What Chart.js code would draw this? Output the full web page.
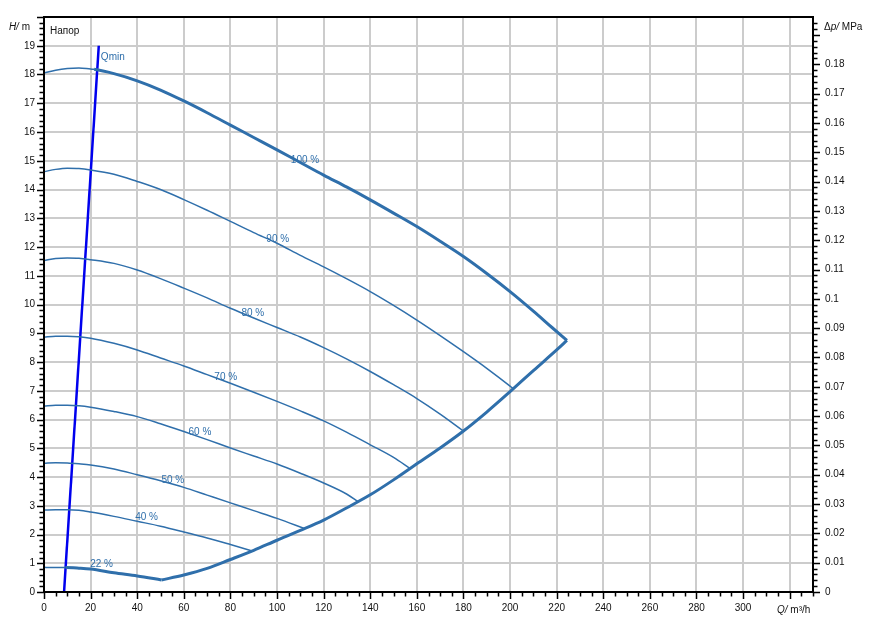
<!DOCTYPE html>
<html lang="ru">
<head>
<meta charset="UTF-8">
<title>Напор</title>
<script src="https://cdn.jsdelivr.net/npm/chart.js@4.4.0/dist/chart.umd.min.js"></script>
<style>
  html, body { margin: 0; padding: 0; background: #fff; }
  #wrap { width: 876px; height: 639px; }
</style>
</head>
<body>
<div id="wrap"><canvas id="pumpChart" width="876" height="639"></canvas></div>
<script>
// Q in m3/h, H in m
const q100 = [0, 5, 10, 15, 20, 21.5, 30, 40, 50, 60, 70, 80, 90, 100, 110, 120, 130, 140, 150, 160, 170, 180, 190, 200, 210, 218, 224.4];
const h100 = [18.05, 18.15, 18.21, 18.23, 18.19, 18.18, 18.03, 17.78, 17.46, 17.08, 16.67, 16.24, 15.81, 15.38, 14.94, 14.5, 14.08, 13.64, 13.18, 12.71, 12.2, 11.67, 11.08, 10.45, 9.77, 9.2, 8.75];

const q90 = [0, 5, 10, 15, 20, 30, 40, 50, 60, 70, 80, 90, 100, 110, 120, 130, 140, 150, 160, 170, 180, 190, 200, 201.2];
const h90 = [14.62, 14.7, 14.74, 14.73, 14.68, 14.53, 14.28, 14.0, 13.65, 13.28, 12.89, 12.5, 12.13, 11.71, 11.31, 10.89, 10.45, 9.97, 9.46, 8.92, 8.36, 7.78, 7.16, 7.08];

const q80 = [0, 5, 10, 15, 20, 30, 40, 50, 60, 70, 80, 90, 100, 110, 120, 130, 140, 150, 160, 170, 180];
const h80 = [11.53, 11.6, 11.62, 11.61, 11.56, 11.43, 11.2, 10.9, 10.57, 10.23, 9.87, 9.53, 9.2, 8.87, 8.5, 8.1, 7.67, 7.21, 6.73, 6.19, 5.6];

const q70 = [0, 5, 10, 15, 20, 30, 40, 50, 60, 70, 80, 90, 100, 110, 120, 130, 140, 150, 157];
const h70 = [8.86, 8.9, 8.9, 8.88, 8.83, 8.65, 8.42, 8.14, 7.86, 7.56, 7.26, 6.95, 6.63, 6.3, 5.95, 5.55, 5.12, 4.68, 4.3];

const q60 = [0, 5, 10, 15, 20, 30, 40, 50, 60, 70, 80, 90, 100, 110, 120, 130, 134.8];
const h60 = [6.47, 6.5, 6.5, 6.48, 6.43, 6.28, 6.1, 5.85, 5.58, 5.3, 5.01, 4.73, 4.45, 4.13, 3.79, 3.4, 3.14];

const q50 = [0, 5, 10, 15, 20, 30, 40, 50, 60, 70, 80, 90, 100, 112];
const h50 = [4.48, 4.5, 4.49, 4.46, 4.42, 4.28, 4.08, 3.87, 3.64, 3.37, 3.1, 2.83, 2.56, 2.2];

const q40 = [0, 5, 10, 15, 20, 30, 40, 50, 60, 70, 80, 89.7];
const h40 = [2.85, 2.86, 2.86, 2.84, 2.78, 2.63, 2.46, 2.29, 2.09, 1.88, 1.65, 1.42];

const q22 = [0, 1, 5, 9.2, 15, 20, 30, 40, 50.4];
const h22 = [0.88, 0.85, 0.85, 0.85, 0.83, 0.8, 0.67, 0.56, 0.42];

// max-flow limit, from the 22 % end to the 100 % end
const qLimit = [50.4, 60, 70, 80, 90, 100, 110, 120, 130, 140, 150, 160, 170, 180, 190, 200, 210, 220, 224.4];
const hLimit = [0.42, 0.59, 0.82, 1.13, 1.45, 1.8, 2.14, 2.5, 2.93, 3.38, 3.9, 4.46, 5.01, 5.6, 6.26, 6.97, 7.7, 8.42, 8.75];

const qMinQ = [8.6, 23.5];
const qMinH = [0, 19];

const xTickLabels = [0, 20, 40, 60, 80, 100, 120, 140, 160, 180, 200, 220, 240, 260, 280, 300];
const hTickLabels = [0, 1, 2, 3, 4, 5, 6, 7, 8, 9, 10, 11, 12, 13, 14, 15, 16, 17, 18, 19];
const pTickLabels = [0, 0.01, 0.02, 0.03, 0.04, 0.05, 0.06, 0.07, 0.08, 0.09, 0.1, 0.11, 0.12, 0.13, 0.14, 0.15, 0.16, 0.17, 0.18];

const curveColor = '#2f6fab';
const gridColor = '#cccccc';
const FONT = "'Liberation Sans', Arial, sans-serif";
const M_TO_MPA = 0.00980665;

// curve name positions (Q, H), text centred there
const curveLabels = [
  { text: '100 %', q: 112, h: 15.03 },
  { text: '90 %', q: 100.3, h: 12.28 },
  { text: '80 %', q: 89.6, h: 9.7 },
  { text: '70 %', q: 78, h: 7.48 },
  { text: '60 %', q: 66.9, h: 5.54 },
  { text: '50 %', q: 55.3, h: 3.9 },
  { text: '40 %', q: 44, h: 2.61 },
  { text: '22 %', q: 24.7, h: 0.97 }
];

function pts(qs, hs) {
  return qs.map((q, i) => ({ x: q, y: hs[i] }));
}

function isIn(list, v) {
  return list.some(t => Math.abs(t - v) < 1e-7);
}

function speedCurve(label, qs, hs, thickFrom) {
  const ds = {
    label: label,
    data: pts(qs, hs),
    borderColor: curveColor,
    borderWidth: 1.5,
    pointRadius: 0,
    cubicInterpolationMode: 'monotone',
    fill: false
  };
  if (thickFrom !== undefined) {
    ds.segment = { borderWidth: c => (c.p0.parsed.x >= thickFrom - 1e-9 ? 3 : 1.5) };
  }
  return ds;
}

function mixedText(c, parts, x, y, align) {
  let total = 0;
  parts.forEach(p => { c.font = p[1]; total += c.measureText(p[0]).width; });
  let cx = align === 'right' ? x - total : align === 'center' ? x - total / 2 : x;
  c.textAlign = 'left';
  parts.forEach(p => {
    c.font = p[1];
    c.fillText(p[0], cx, y);
    cx += c.measureText(p[0]).width;
  });
}

const frameAndTicks = {
  id: 'frameAndTicks',
  afterDraw(chart) {
    const c = chart.ctx;
    const a = chart.chartArea;
    const sx = chart.scales.x, sy = chart.scales.y, sp = chart.scales.p;
    c.save();
    c.strokeStyle = '#000';
    c.lineWidth = 1.5;
    c.beginPath();
    sx.ticks.forEach(t => {
      const px = Math.round(sx.getPixelForValue(t.value)) + 0.5;
      const len = Math.abs(t.value % 20) < 1e-7 ? 7 : 4.5;
      c.moveTo(px, a.bottom); c.lineTo(px, a.bottom + len);
    });
    sy.ticks.forEach(t => {
      const py = Math.round(sy.getPixelForValue(t.value)) + 0.5;
      const len = Math.abs(t.value - Math.round(t.value)) < 1e-7 ? 7 : 4.5;
      c.moveTo(a.left, py); c.lineTo(a.left - len, py);
    });
    sp.ticks.forEach(t => {
      if (t.value > sp.max - 1e-9) return;
      const py = Math.round(sp.getPixelForValue(t.value)) + 0.5;
      const v = t.value * 100;
      const len = Math.abs(v - Math.round(v)) < 1e-6 ? 7 : 4.5;
      c.moveTo(a.right, py); c.lineTo(a.right + len, py);
    });
    c.stroke();

    c.lineWidth = 2;
    c.strokeRect(a.left, a.top, a.right - a.left, a.bottom - a.top);

    // axis titles
    c.fillStyle = '#111';
    c.textBaseline = 'middle';
    const it = 'italic 10px ' + FONT, nm = '10px ' + FONT;
    mixedText(c, [['H/', it], [' m', nm]], a.left - 14, sy.getPixelForValue(19.65), 'right');
    mixedText(c, [['\u0394', nm], ['p/', it], [' MPa', nm]], a.right + 11, sp.getPixelForValue(0.1925), 'left');
    mixedText(c, [['Q/', it], [' m\u00b3/h', nm]], sx.getPixelForValue(320) + 4, a.bottom + 18, 'center');
    c.font = nm;
    c.textAlign = 'left';
    c.fillText('\u041d\u0430\u043f\u043e\u0440', a.left + 6, a.top + 14);

    // curve names
    c.fillStyle = curveColor;
    c.textAlign = 'center';
    curveLabels.forEach(l => {
      c.fillText(l.text, sx.getPixelForValue(l.q), sy.getPixelForValue(l.h));
    });
    c.textAlign = 'left';
    c.fillText('Qmin', sx.getPixelForValue(24.4), sy.getPixelForValue(18.6));
    c.restore();
  }
};

const ctx = document.getElementById('pumpChart').getContext('2d');
const pumpChart = new Chart(ctx, {
  type: 'line',
  data: {
    datasets: [
      speedCurve('100 %', q100, h100, 21.5),
      speedCurve('90 %', q90, h90),
      speedCurve('80 %', q80, h80),
      speedCurve('70 %', q70, h70),
      speedCurve('60 %', q60, h60),
      speedCurve('50 %', q50, h50),
      speedCurve('40 %', q40, h40),
      speedCurve('22 %', q22, h22, 9.2),
      {
        label: 'limit',
        data: pts(qLimit, hLimit),
        borderColor: curveColor,
        borderWidth: 3,
        pointRadius: 0,
        cubicInterpolationMode: 'monotone',
        fill: false
      },
      {
        label: 'Qmin',
        data: pts(qMinQ, qMinH),
        borderColor: '#0000ee',
        borderWidth: 2.5,
        pointRadius: 0,
        fill: false
      }
    ]
  },
  options: {
    responsive: false,
    animation: false,
    events: [],
    layout: { padding: { top: 17, left: 0, right: 0, bottom: 0 } },
    plugins: { legend: { display: false }, tooltip: { enabled: false } },
    scales: {
      x: {
        type: 'linear',
        min: 0,
        max: 330,
        afterFit: s => { s.height = 47; },
        border: { display: false },
        grid: {
          color: c => (c.tick && c.tick.value > 0 && c.tick.value < 330 && Math.abs(c.tick.value % 20) < 1e-7 ? gridColor : 'rgba(0,0,0,0)'),
          lineWidth: 2,
          tickLength: 7,
          tickColor: 'rgba(0,0,0,0)'
        },
        ticks: {
          stepSize: 5,
          autoSkip: false,
          maxRotation: 0,
          padding: 3,
          color: '#111',
          font: { family: FONT, size: 10 },
          callback: v => (isIn(xTickLabels, v) ? String(v) : '')
        }
      },
      y: {
        type: 'linear',
        position: 'left',
        min: 0,
        max: 20,
        afterFit: s => { s.width = 44; },
        border: { display: false },
        grid: {
          color: c => (c.tick && c.tick.value > 0 && c.tick.value < 20 && Math.abs(c.tick.value - Math.round(c.tick.value)) < 1e-7 ? gridColor : 'rgba(0,0,0,0)'),
          lineWidth: 2,
          tickLength: 7,
          tickColor: 'rgba(0,0,0,0)'
        },
        ticks: {
          stepSize: 0.2,
          autoSkip: false,
          padding: 2,
          color: '#111',
          font: { family: FONT, size: 10 },
          callback: v => (isIn(hTickLabels, v) ? String(Math.round(v)) : '')
        }
      },
      p: {
        type: 'linear',
        position: 'right',
        min: 0,
        max: 20 * M_TO_MPA,
        afterFit: s => { s.width = 63; },
        border: { display: false },
        grid: { drawOnChartArea: false, tickLength: 7, tickColor: 'rgba(0,0,0,0)' },
        ticks: {
          stepSize: 0.002,
          autoSkip: false,
          padding: 5,
          color: '#111',
          font: { family: FONT, size: 10 },
          callback: v => (isIn(pTickLabels, v) ? String(Math.round(v * 100) / 100) : '')
        }
      }
    }
  },
  plugins: [frameAndTicks]
});
</script>
</body>
</html>
